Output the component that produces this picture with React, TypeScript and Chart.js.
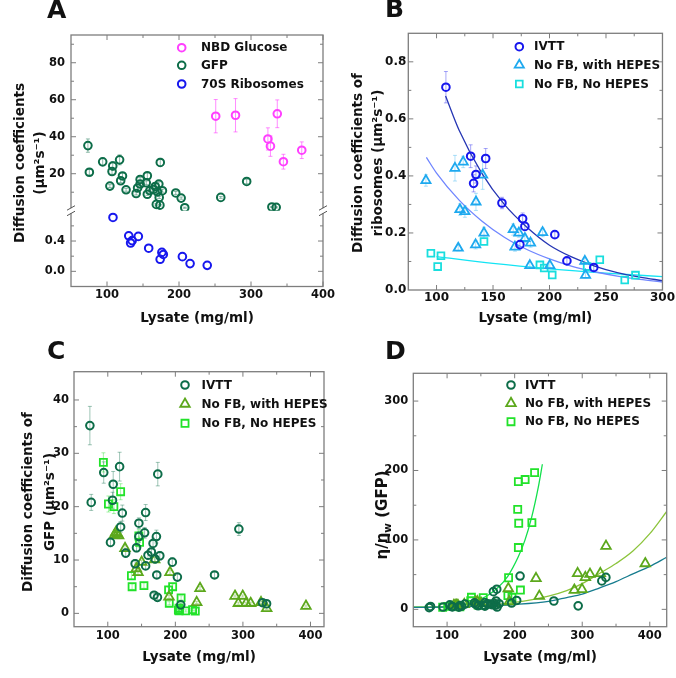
import React, { useEffect, useRef } from "react";
import { Chart, registerables } from "chart.js";
Chart.register(...registerables);

const FONT = "'DejaVu Sans', Verdana, sans-serif";
const TXT = "#111111";
const FRAME = "#7d7d7d";

// ---------------- DATA ----------------
// GFP in IVTT lysate (panels A, C, D)
const gfpIvttLysate = [73.5, 75.5, 94, 108, 107, 117.5, 174, 104, 121.5, 119, 126.5, 140.5, 146, 146, 142.5, 156, 154.5, 156, 159.5, 164.5, 167, 172, 170, 177, 172.5, 168.5, 173.5, 195.5, 203, 208, 258, 294, 329, 335];
const gfpIvttDiff = [35.2, 20.8, 26.4, 24.2, 21.2, 27.5, 26.1, 13.3, 18.8, 16.2, 11.3, 9.3, 16.9, 14.4, 12.3, 18.9, 15.1, 8.9, 10.9, 11.5, 13.1, 14.4, 10.2, 10.8, 7.2, 3.4, 3.0, 9.6, 6.8, 1.6, 7.2, 15.8, 2.0, 1.8];
const gfpIvttErr = [3.6, 1.5, 2.0, 2.4, 1.5, 2.7, 2.2, 0.8, 1.5, 1.0, 0.8, 0.8, 1.0, 1.0, 0.8, 1.5, 1.0, 0.6, 0.8, 0.8, 1.0, 1.2, 0.8, 0.8, 0.6, 0.4, 0.4, 0.8, 0.6, 0.3, 0.5, 1.2, 0.3, 0.3];
const gfpIvttEta = [2.5, 4.2, 3.3, 3.6, 4.1, 3.2, 3.3, 6.5, 4.6, 5.4, 7.7, 9.3, 5.1, 6.0, 7.1, 4.6, 5.8, 9.8, 8.0, 7.6, 6.6, 6.0, 8.5, 8.1, 12, 25.5, 29, 9.1, 12.8, 48, 12, 5, 41, 46];

// GFP, No FB with HEPES (panels C, D)
const gfpHepesLysate = [110, 112, 114, 116, 125.5, 142.2, 144.7, 150.2, 169.4, 192.1, 190.6, 236.5, 231.6, 288.3, 293.2, 299.7, 304.6, 311.5, 326.8, 335.2, 393.3];
const gfpHepesDiff = [14.7, 15.2, 14.9, 14.6, 12.2, 8.4, 7.7, 9.6, 10.1, 7.7, 3.1, 4.7, 2.06, 3.25, 1.9, 3.25, 1.9, 1.9, 2.06, 0.94, 1.37];
const gfpHepesErr = [0.6, 0.6, 0.6, 0.6, 0.5, 0.4, 0.4, 0.4, 0.4, 0.4, 0.3, 0.3, 0.2, 0.2, 0.2, 0.2, 0.2, 0.2, 0.2, 0.2, 0.2];
const gfpHepesEta = [5.9, 5.7, 5.8, 6.0, 7.1, 10.4, 11.3, 9.1, 8.6, 11.3, 30, 19, 44.6, 27.8, 51.8, 28.8, 46, 50.8, 51.8, 91, 66];

// GFP, No FB no HEPES (panels C, D)
const gfpNoHepesLysate = [93.5, 101, 109, 119, 146, 147, 135, 136, 153.5, 190, 196, 191, 208.5, 204.5, 206, 205.5, 205.5, 215.5, 225.5, 229.5];
const gfpNoHepesDiff = [28.3, 20.5, 20.0, 22.8, 14.5, 13.3, 7.05, 5.0, 5.2, 4.4, 5.0, 1.9, 2.9, 0.6, 0.7, 0.98, 0.47, 0.46, 0.69, 0.44];
const gfpNoHepesErr = [1.8, 1.5, 1.3, 1.5, 1.2, 1.0, 0.6, 0.5, 0.5, 0.5, 0.5, 0.3, 0.4, 0.2, 0.2, 0.2, 0.2, 0.2, 0.2, 0.2];
const gfpNoHepesEta = [3.1, 4.2, 4.3, 3.8, 6.0, 6.5, 12.3, 17.4, 16.7, 19.8, 17.4, 45.5, 27.8, 144, 124, 89, 184, 187, 125, 197];

// NBD glucose (panel A)
const nbdLysate = [251, 278.5, 323.5, 327, 336.5, 345, 370.5];
const nbdDiff = [51.1, 51.6, 38.8, 34.9, 52.4, 26.5, 32.7];
const nbdErr = [9, 9, 6, 5.5, 7.5, 4, 4.5];

// 70S ribosomes, IVTT (panels A, B)
const riboIvttLysate = [108.3, 130.2, 134.9, 132.8, 143.5, 157.9, 176.2, 178.2, 173.8, 204.7, 215.4, 239.2];
const riboIvttDiff = [0.711, 0.469, 0.405, 0.374, 0.461, 0.305, 0.25, 0.223, 0.159, 0.194, 0.102, 0.079];
const riboIvttErr = [0.055, 0.04, 0.03, 0.03, 0.035, 0.02, 0.02, 0.015, 0.015, 0.01, 0.01, 0.01];

// ribosomes, No FB with HEPES (panel B)
const riboHepesLysate = [90.6, 116.3, 123.6, 140.8, 134.9, 120.7, 125.1, 119.2, 134.6, 142, 167.9, 169.4, 172.9, 178.2, 183.2, 182.6, 193.9, 200.3, 231.3, 231.9];
const riboHepesDiff = [0.384, 0.427, 0.449, 0.403, 0.309, 0.282, 0.275, 0.147, 0.159, 0.2, 0.212, 0.151, 0.2, 0.181, 0.165, 0.086, 0.202, 0.086, 0.101, 0.052];
const riboHepesErr = [0.02, 0.045, 0.02, 0.05, 0.03, 0.02, 0.02, 0.01, 0.015, 0.02, 0.02, 0.015, 0.015, 0.015, 0.015, 0.01, 0.015, 0.01, 0.01, 0.01];

// ribosomes, No FB no HEPES (panel B)
const riboNoHepesLysate = [95, 103.9, 101, 142, 191.5, 195.3, 202.4, 233.3, 244.5, 266.6, 276.1];
const riboNoHepesDiff = [0.129, 0.12, 0.082, 0.17, 0.088, 0.077, 0.053, 0.082, 0.106, 0.035, 0.052];

// fitted curves
const fitRiboIvttX = [108, 120, 140, 160, 180, 200, 220, 240, 260, 280, 300];
const fitRiboIvttY = [0.68, 0.56, 0.41, 0.3, 0.22, 0.157, 0.115, 0.084, 0.061, 0.045, 0.033];
const fitRiboHepesX = [91, 100, 120, 140, 160, 180, 200, 220, 240, 260, 280, 300];
const fitRiboHepesY = [0.465, 0.41, 0.315, 0.242, 0.185, 0.142, 0.109, 0.083, 0.064, 0.049, 0.037, 0.028];
const fitRiboNoHepesX = [100, 150, 200, 250, 300];
const fitRiboNoHepesY = [0.117, 0.093, 0.074, 0.059, 0.047];

// fitted curves
const fitEtaIvttX = [50, 100, 150, 200, 250, 277, 300, 326, 350, 375, 400, 425];
const fitEtaIvttY = [2.8, 3.4, 4.6, 7, 11.5, 17, 22, 31, 40, 51, 62, 75];
const fitEtaHepesX = [50, 100, 150, 200, 250, 277, 300, 326, 350, 375, 400, 425];
const fitEtaHepesY = [3, 3.8, 5.8, 10, 19, 27, 37, 52, 66, 84, 109, 141];
const fitEtaNoHepesX = [50, 80, 100, 120, 140, 160, 175, 190, 205, 215, 225, 235, 241];
const fitEtaNoHepesY = [3, 3.2, 4, 6, 11, 20, 31, 48, 75, 99, 132, 176, 209];

// tick values
const ticksAx = [100, 200, 300, 400];
const ticksAyTop = [20, 40, 60, 80];
const ticksAyBot = [0, 0.4];
const ticksBx = [100, 150, 200, 250, 300];
const ticksBy = [0, 0.2, 0.4, 0.6, 0.8];
const ticksCx = [100, 200, 300, 400];
const ticksCy = [0, 10, 20, 30, 40];
const ticksDx = [100, 200, 300, 400];
const ticksDy = [0, 100, 200, 300];

// colours
const MAGENTA = "#ff40ff";
const GREEN = "#0d6d49";
const BLUE = "#1717ee";
const SKY = "#1ea9ef";
const CYAN = "#19dede";
const OLIVE = "#5ca81c";
const LIME = "#22e22a";

// ---------------- HELPERS ----------------
const pts = (xs: number[], ys: number[]) => xs.map((x, i) => ({ x, y: ys[i] }));

function scatterSet(label: string, xs: number[], ys: number[], color: string, style: string, r: number, lw: number, yAxisID = "y") {
  return {
    label, data: pts(xs, ys), yAxisID, xAxisID: "x",
    pointStyle: style, pointRadius: r, pointHoverRadius: r,
    borderColor: color, pointBorderColor: color, backgroundColor: "rgba(0,0,0,0)", pointBackgroundColor: "rgba(0,0,0,0)",
    pointBorderWidth: lw, borderWidth: lw, showLine: false,
  };
}
function fitSet(xs: number[], ys: number[], color: string, yAxisID = "y") {
  return {
    label: "", data: pts(xs, ys), yAxisID, xAxisID: "x", showLine: true, pointRadius: 0, pointHoverRadius: 0,
    borderColor: color, backgroundColor: color, borderWidth: 1.3, cubicInterpolationMode: "monotone", fill: false,
  };
}

function xScale(min: number, max: number, ticks: number[], height: number, size: number, pad: number) {
  return {
    type: "linear", axis: "x", position: "bottom", min, max,
    afterBuildTicks: (s: any) => { s.ticks = ticks.map((v) => ({ value: v })); },
    afterFit: (s: any) => { s.height = height; },
    ticks: { font: { family: FONT, size, weight: "bold" }, color: TXT, padding: pad, callback: (v: any) => String(v) },
    grid: { display: false, drawTicks: false },
    border: { display: false },
    title: { display: true, text: "Lysate (mg/ml)", color: TXT, font: { family: FONT, size: 13.5, weight: "bold" }, padding: { top: 0, bottom: 12 } },
  };
}
function yScale(min: number, max: number, ticks: number[], width: number, size: number, pad: number, decimals: number) {
  return {
    type: "linear", axis: "y", position: "left", min, max,
    afterBuildTicks: (s: any) => { s.ticks = ticks.map((v) => ({ value: v })); },
    afterFit: (s: any) => { s.width = width; },
    ticks: { font: { family: FONT, size, weight: "bold" }, color: TXT, padding: pad, callback: (v: any) => Number(v).toFixed(decimals) },
    grid: { display: false, drawTicks: false },
    border: { display: false },
  };
}

function drawMarker(ctx: CanvasRenderingContext2D, style: string, x: number, y: number, r: number, color: string, lw: number) {
  ctx.save();
  ctx.strokeStyle = color;
  ctx.lineWidth = lw;
  ctx.beginPath();
  if (style === "circle") ctx.arc(x, y, r, 0, Math.PI * 2);
  else if (style === "triangle") {
    for (let k = 0; k < 3; k++) {
      const a = (k * 2 * Math.PI) / 3;
      const px = x + Math.sin(a) * r, py = y - Math.cos(a) * r;
      if (k === 0) ctx.moveTo(px, py); else ctx.lineTo(px, py);
    }
    ctx.closePath();
  } else {
    const s = r * Math.SQRT1_2;
    ctx.rect(x - s, y - s, 2 * s, 2 * s);
  }
  ctx.stroke();
  ctx.restore();
}

type ErrSpec = { ds: number; err: number[]; color: string };
function errorPlugin(specs: ErrSpec[]) {
  return {
    id: "errbars",
    beforeDatasetsDraw(chart: any) {
      const ctx = chart.ctx;
      ctx.save();
      ctx.lineWidth = 1;
      for (const s of specs) {
        const meta = chart.getDatasetMeta(s.ds);
        const ys = chart.scales[meta.yAxisID];
        const data = chart.data.datasets[s.ds].data;
        ctx.strokeStyle = s.color;
        meta.data.forEach((el: any, i: number) => {
          const e = s.err[i];
          if (!e) return;
          const v = data[i].y;
          const y1 = ys.getPixelForValue(v - e), y2 = ys.getPixelForValue(v + e);
          const x = el.x;
          ctx.beginPath();
          ctx.moveTo(x, y1); ctx.lineTo(x, y2);
          ctx.moveTo(x - 2, y1); ctx.lineTo(x + 2, y1);
          ctx.moveTo(x - 2, y2); ctx.lineTo(x + 2, y2);
          ctx.stroke();
        });
      }
      ctx.restore();
    },
  };
}

type FrameSpec = { xMajor: number[]; xMinor: number[]; y: { id: string; major: number[]; minor: number[] }[]; breakAxis?: string };
function framePlugin(f: FrameSpec) {
  return {
    id: "frame",
    afterDatasetsDraw(chart: any) {
      const { ctx, chartArea: a } = chart;
      ctx.save();
      ctx.strokeStyle = FRAME;
      ctx.lineWidth = 1.3;
      ctx.strokeRect(a.left, a.top, a.right - a.left, a.bottom - a.top);
      ctx.lineWidth = 1;
      const seg = (x1: number, y1: number, x2: number, y2: number) => { ctx.beginPath(); ctx.moveTo(x1, y1); ctx.lineTo(x2, y2); ctx.stroke(); };
      const xs = chart.scales.x;
      const xt = (vals: number[], len: number) => vals.forEach((v) => { const p = xs.getPixelForValue(v); seg(p, a.bottom, p, a.bottom - len); seg(p, a.top, p, a.top + len); });
      xt(f.xMajor, 5); xt(f.xMinor, 3);
      f.y.forEach((ax) => {
        const ys = chart.scales[ax.id];
        const yt = (vals: number[], len: number) => vals.forEach((v) => { const p = ys.getPixelForValue(v); seg(a.left, p, a.left + len, p); seg(a.right, p, a.right - len, p); });
        yt(ax.major, 5); yt(ax.minor, 3);
      });
      if (f.breakAxis) {
        const yb = chart.scales[f.breakAxis].bottom;
        [a.left, a.right].forEach((x: number) => {
          ctx.fillStyle = "#ffffff";
          ctx.fillRect(x - 2, yb - 2.5, 4, 5);
          ctx.strokeStyle = "#555";
          seg(x - 4, yb - 0.5, x + 4, yb - 5);
          seg(x - 4, yb + 5, x + 4, yb + 0.5);
        });
      }
      ctx.restore();
    },
  };
}

type LegendItem = { style: string; r: number; color: string; lw: number };
function legendPlugin(items: LegendItem[], markerX: number, textX: number, rows: number[]) {
  return {
    id: "legendInside",
    afterDraw(chart: any) {
      const ctx = chart.ctx;
      ctx.save();
      items.forEach((it, i) => {
        const y = rows[i];
        drawMarker(ctx, it.style, markerX, y, it.r, it.color, it.lw);
        ctx.fillStyle = TXT;
        ctx.font = `bold 12px ${FONT}`;
        ctx.textAlign = "left";
        ctx.textBaseline = "middle";
        ctx.fillText(chart.data.datasets[i].label, textX, y + 0.5);
      });
      ctx.restore();
    },
  };
}

type Seg = { t: string; sub?: boolean };
type TitleSpec = { letter: string; lx: number; ly: number; lines: Seg[][]; xs: number[]; cy: number; size: number };
function titlePlugin(t: TitleSpec) {
  return {
    id: "titles",
    afterDraw(chart: any) {
      const ctx = chart.ctx;
      ctx.save();
      ctx.fillStyle = TXT;
      ctx.font = `bold 25px ${FONT}`;
      ctx.textAlign = "left";
      ctx.textBaseline = "middle";
      ctx.fillText(t.letter, t.lx, t.ly);
      const big = `bold ${t.size}px ${FONT}`;
      const small = `bold ${t.size * 0.7}px ${FONT}`;
      t.lines.forEach((line, i) => {
        let total = 0;
        line.forEach((s) => { ctx.font = s.sub ? small : big; total += ctx.measureText(s.t).width; });
        ctx.save();
        ctx.translate(t.xs[i], t.cy);
        ctx.rotate(-Math.PI / 2);
        let x = -total / 2;
        line.forEach((s) => {
          ctx.font = s.sub ? small : big;
          ctx.fillText(s.t, x, s.sub ? t.size * 0.3 : 0);
          x += ctx.measureText(s.t).width;
        });
        ctx.restore();
      });
      ctx.restore();
    },
  };
}

const baseOptions = (padding: any, scales: any) => ({
  animation: false,
  responsive: false,
  events: [],
  layout: { padding },
  plugins: { legend: { display: false }, tooltip: { enabled: false } },
  scales,
});

// ---------------- PANELS ----------------
function configA() {
  const datasets = [
    scatterSet("NBD Glucose", nbdLysate, nbdDiff, MAGENTA, "circle", 3.8, 2, "yTop"),
    scatterSet("GFP", gfpIvttLysate, gfpIvttDiff, GREEN, "circle", 3.8, 2, "yTop"),
    scatterSet("70S Ribosomes", riboIvttLysate, riboIvttDiff, BLUE, "circle", 3.8, 2, "yBot"),
  ];
  return {
    type: "scatter",
    data: { datasets },
    options: baseOptions({ left: 0, top: 35, right: 15, bottom: 0 }, {
      x: xScale(50, 400, ticksAx, 52.5, 11.5, 2),
      yTop: { ...yScale(0, 95, ticksAyTop, 71, 11.5, 6, 0), stack: "a", stackWeight: 175.7, weight: 1 },
      yBot: { ...yScale(-0.2, 0.8, ticksAyBot, 71, 11.5, 6, 1), stack: "a", stackWeight: 75.8, weight: 0 },
    }),
    plugins: [
      errorPlugin([
        { ds: 0, err: nbdErr, color: "rgba(255,64,255,0.6)" },
        { ds: 1, err: gfpIvttErr, color: "rgba(13,109,73,0.45)" },
      ]),
      framePlugin({
        xMajor: [100, 200, 300, 400], xMinor: [150, 250, 350],
        y: [
          { id: "yTop", major: [20, 40, 60, 80], minor: [10, 30, 50, 70, 90] },
          { id: "yBot", major: [0, 0.4], minor: [-0.2, 0.2, 0.6] },
        ],
        breakAxis: "yTop",
      }),
      legendPlugin([
        { style: "circle", r: 3.8, color: MAGENTA, lw: 2 },
        { style: "circle", r: 3.8, color: GREEN, lw: 2 },
        { style: "circle", r: 3.8, color: BLUE, lw: 2 },
      ], 181.7, 201, [47.7, 65.3, 84]),
      titlePlugin({ letter: "A", lx: 47, ly: 11, lines: [[{ t: "Diffusion coefficients" }], [{ t: "(μm²s⁻¹)" }]], xs: [20.3, 40.7], cy: 163, size: 13.5 }),
    ],
  };
}

function configB() {
  const datasets = [
    scatterSet("IVTT", riboIvttLysate, riboIvttDiff, BLUE, "circle", 3.8, 2),
    scatterSet("No FB, with HEPES", riboHepesLysate, riboHepesDiff, SKY, "triangle", 5.3, 1.8),
    scatterSet("No FB, No HEPES", riboNoHepesLysate, riboNoHepesDiff, CYAN, "rect", 4.8, 1.8),
    fitSet(fitRiboIvttX, fitRiboIvttY, "#2636b4"),
    fitSet(fitRiboHepesX, fitRiboHepesY, "#7086ff"),
    fitSet(fitRiboNoHepesX, fitRiboNoHepesY, "#14e4f4"),
  ];
  return {
    type: "scatter",
    data: { datasets },
    options: baseOptions({ left: 0, top: 33.3, right: 13.3, bottom: 0 }, {
      x: xScale(75, 300, ticksBx, 49, 12, 1),
      y: yScale(0, 0.9, ticksBy, 70.3, 12, 2, 1),
    }),
    plugins: [
      errorPlugin([
        { ds: 0, err: riboIvttErr, color: "rgba(60,60,240,0.45)" },
        { ds: 1, err: riboHepesErr, color: "rgba(30,169,239,0.35)" },
      ]),
      framePlugin({
        xMajor: [100, 150, 200, 250], xMinor: [125, 175, 225, 275],
        y: [{ id: "y", major: [0.2, 0.4, 0.6, 0.8], minor: [0.1, 0.3, 0.5, 0.7] }],
      }),
      legendPlugin([
        { style: "circle", r: 3.8, color: BLUE, lw: 2 },
        { style: "triangle", r: 5.3, color: SKY, lw: 1.8 },
        { style: "rect", r: 4.8, color: CYAN, lw: 1.8 },
      ], 181.3, 196, [46.7, 65, 84]),
      titlePlugin({ letter: "B", lx: 47, ly: 10, lines: [[{ t: "Diffusion coefficients of" }], [{ t: "ribosomes (μm²s⁻¹)" }]], xs: [20.7, 40.3], cy: 163, size: 13.5 }),
    ],
  };
}

function configC() {
  const datasets = [
    scatterSet("IVTT", gfpIvttLysate, gfpIvttDiff, GREEN, "circle", 3.8, 2),
    scatterSet("No FB, with HEPES", gfpHepesLysate, gfpHepesDiff, OLIVE, "triangle", 5.5, 1.8),
    scatterSet("No FB, No HEPES", gfpNoHepesLysate, gfpNoHepesDiff, LIME, "rect", 5, 1.8),
  ];
  return {
    type: "scatter",
    data: { datasets },
    options: baseOptions({ left: 0, top: 32.7, right: 14, bottom: 0 }, {
      x: xScale(50, 420, ticksCx, 51.3, 11.5, 2),
      y: yScale(-2.5, 45.3, ticksCy, 74, 11.5, 5, 0),
    }),
    plugins: [
      errorPlugin([
        { ds: 0, err: gfpIvttErr, color: "rgba(13,109,73,0.4)" },
        { ds: 1, err: gfpHepesErr, color: "rgba(92,168,28,0.4)" },
        { ds: 2, err: gfpNoHepesErr, color: "rgba(34,226,42,0.4)" },
      ]),
      framePlugin({
        xMajor: [100, 200, 300, 400], xMinor: [150, 250, 350],
        y: [{ id: "y", major: [0, 10, 20, 30, 40], minor: [5, 15, 25, 35] }],
      }),
      legendPlugin([
        { style: "circle", r: 3.8, color: GREEN, lw: 2 },
        { style: "triangle", r: 5.5, color: OLIVE, lw: 1.8 },
        { style: "rect", r: 5, color: LIME, lw: 1.8 },
      ], 185, 201.5, [46, 65, 84.3]),
      titlePlugin({ letter: "C", lx: 47, ly: 13.5, lines: [[{ t: "Diffusion coefficients of" }], [{ t: "GFP (μm²s⁻¹)" }]], xs: [28.3, 50], cy: 163, size: 13.5 }),
    ],
  };
}

function configD() {
  const datasets = [
    scatterSet("IVTT", gfpIvttLysate, gfpIvttEta, GREEN, "circle", 3.8, 2),
    scatterSet("No FB, with HEPES", gfpHepesLysate, gfpHepesEta, OLIVE, "triangle", 5.5, 1.8),
    scatterSet("No FB, No HEPES", gfpNoHepesLysate, gfpNoHepesEta, LIME, "rect", 5, 1.8),
    fitSet(fitEtaIvttX, fitEtaIvttY, "#167c8e"),
    fitSet(fitEtaHepesX, fitEtaHepesY, "#8cc43c"),
    fitSet(fitEtaNoHepesX, fitEtaNoHepesY, "#12e04c"),
  ];
  return {
    type: "scatter",
    data: { datasets },
    options: baseOptions({ left: 0, top: 34.3, right: 9.3, bottom: 0 }, {
      x: xScale(50, 425, ticksDx, 51.3, 11.5, 2.5),
      y: yScale(-25, 340, ticksDy, 75.3, 11.5, 5, 0),
    }),
    plugins: [
      framePlugin({
        xMajor: [100, 200, 300, 400], xMinor: [150, 250, 350],
        y: [{ id: "y", major: [0, 100, 200, 300], minor: [50, 150, 250] }],
      }),
      legendPlugin([
        { style: "circle", r: 3.8, color: GREEN, lw: 2 },
        { style: "triangle", r: 5.5, color: OLIVE, lw: 1.8 },
        { style: "rect", r: 5, color: LIME, lw: 1.8 },
      ], 173, 187, [46, 64.3, 82.7]),
      titlePlugin({ letter: "D", lx: 47, ly: 13.5, lines: [[{ t: "η/η" }, { t: "w", sub: true }, { t: " (GFP)" }]], xs: [45.3], cy: 176, size: 15 }),
    ],
  };
}

function Panel({ left, top, build }: { left: number; top: number; build: () => any }) {
  const ref = useRef<HTMLCanvasElement>(null);
  useEffect(() => {
    const chart = new Chart(ref.current as HTMLCanvasElement, build() as any);
    return () => chart.destroy();
  }, []);
  return (
    <div style={{ position: "absolute", left, top, width: 338, height: 339 }}>
      <canvas ref={ref} width={338} height={339} style={{ width: 338, height: 339, display: "block" }} />
    </div>
  );
}

export default function App() {
  return (
    <div style={{ position: "absolute", left: 0, top: 0, width: 676, height: 678, background: "#ffffff" }}>
      <Panel left={0} top={0} build={configA} />
      <Panel left={338} top={0} build={configB} />
      <Panel left={0} top={339} build={configC} />
      <Panel left={338} top={339} build={configD} />
    </div>
  );
}
